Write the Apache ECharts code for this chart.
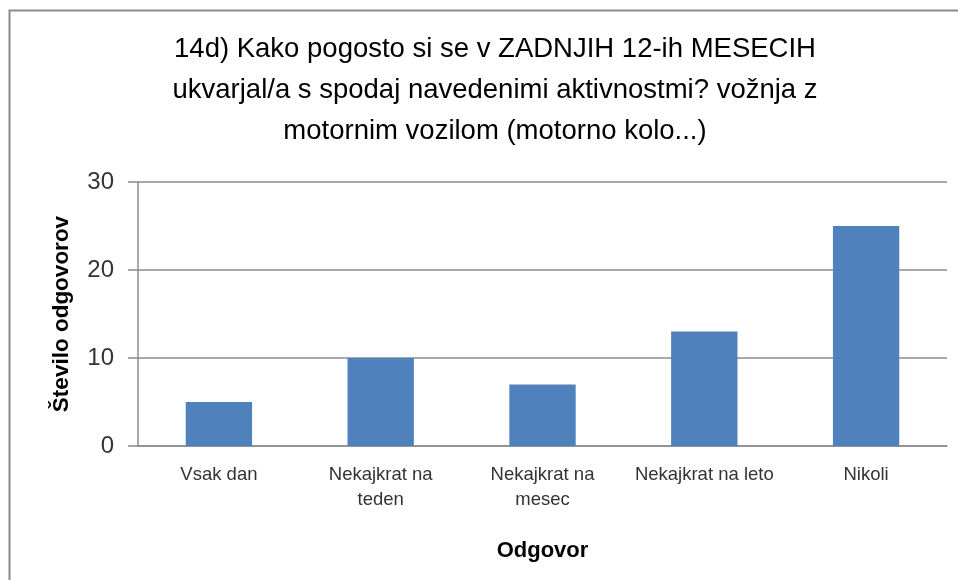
<!DOCTYPE html>
<html>
<head>
<meta charset="utf-8">
<script src="https://cdn.jsdelivr.net/npm/echarts@6/dist/echarts.min.js"></script>
<style>
  html, body { margin: 0; padding: 0; background: #fff; }
  #chart { width: 958px; height: 580px; }
</style>
</head>
<body>
<div id="chart"></div>
<script>
// Survey answers: how often the respondent drove a motor vehicle in the last 12 months
const titleText = '14d) Kako pogosto si se v ZADNJIH 12-ih MESECIH\nukvarjal/a s spodaj navedenimi aktivnostmi? vožnja z\nmotornim vozilom (motorno kolo...)';
const categories = ['Vsak dan', 'Nekajkrat na\nteden', 'Nekajkrat na\nmesec', 'Nekajkrat na leto', 'Nikoli'];
const counts = [5, 10, 7, 13, 25];
const yTicks = { min: 0, max: 30, interval: 10 };
const xAxisName = 'Odgovor';
const yAxisName = 'Število odgovorov';

const FONT = 'Liberation Sans';
const chart = echarts.init(document.getElementById('chart'), null, { renderer: 'canvas' });

chart.setOption({
  backgroundColor: '#ffffff',
  animation: false,
  title: {
    text: titleText,
    left: 490,
    top: 24,
    textAlign: 'center',
    textStyle: {
      fontFamily: FONT,
      fontSize: 27.5,
      fontWeight: 'normal',
      color: '#000000',
      lineHeight: 41
    }
  },
  graphic: [
    // frame lines along the top and left of the chart area
    {
      type: 'polyline',
      shape: { points: [[9.5, 580], [9.5, 10.5], [958, 10.5]] },
      style: { stroke: '#8a8a8a', lineWidth: 2, fill: null },
      silent: true
    }
  ],
  grid: { left: 138, top: 182, right: 11, bottom: 134, containLabel: false },
  xAxis: {
    type: 'category',
    data: categories,
    name: xAxisName,
    nameLocation: 'middle',
    nameGap: 94,
    nameTextStyle: { fontFamily: FONT, fontSize: 22, fontWeight: 'bold', color: '#000000' },
    axisLine: { show: true, lineStyle: { color: '#8c8c8c', width: 1.5 } },
    axisTick: { show: false },
    axisLabel: {
      fontFamily: FONT,
      fontSize: 18.5,
      color: '#333333',
      lineHeight: 25,
      margin: 16,
      interval: 0
    },
    splitLine: { show: false }
  },
  yAxis: {
    type: 'value',
    min: yTicks.min,
    max: yTicks.max,
    interval: yTicks.interval,
    name: yAxisName,
    nameLocation: 'middle',
    nameRotate: 90,
    nameGap: 65,
    nameTextStyle: { fontFamily: FONT, fontSize: 22.5, fontWeight: 'bold', color: '#000000' },
    axisLine: { show: true, lineStyle: { color: '#8c8c8c', width: 1.5 } },
    axisTick: { show: true, inside: false, length: 10, lineStyle: { color: '#8c8c8c', width: 1.5 } },
    axisLabel: { fontFamily: FONT, fontSize: 24, color: '#333333', margin: 24 },
    splitLine: { show: true, lineStyle: { color: '#8c8c8c', width: 1.5 } }
  },
  series: [{
    type: 'bar',
    data: counts,
    barWidth: '41%',
    itemStyle: { color: '#4f81bd' }
  }]
});
</script>
</body>
</html>
